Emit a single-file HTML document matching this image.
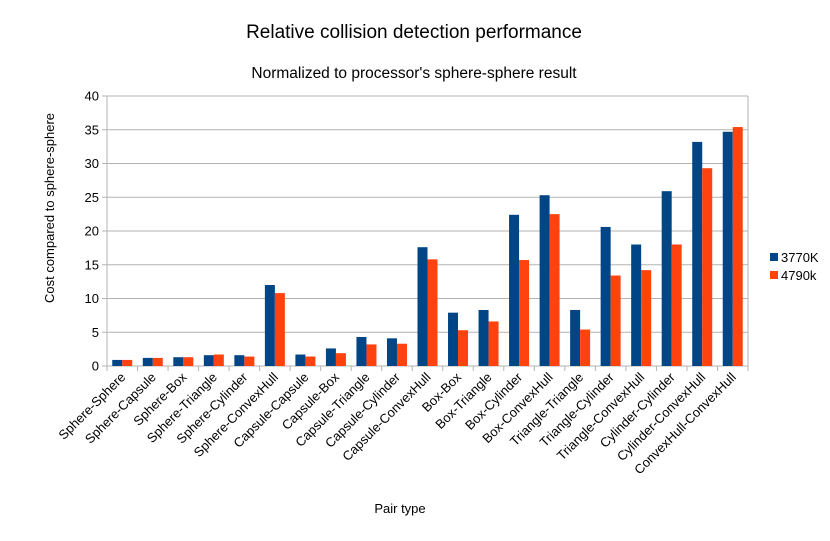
<!DOCTYPE html>
<html><head><meta charset="utf-8"><style>
body{margin:0;background:#fff;font-family:"Liberation Sans",sans-serif;}
</style></head><body>
<svg id="c" width="830" height="536" xmlns="http://www.w3.org/2000/svg" font-family="Liberation Sans, sans-serif">
<text x="414" y="38" text-anchor="middle" font-size="19" fill="#000">Relative collision detection performance</text>
<text x="414" y="78" text-anchor="middle" font-size="15.5" fill="#000">Normalized to processor's sphere-sphere result</text>
<text transform="translate(54,208) rotate(-90)" text-anchor="middle" font-size="13">Cost compared to sphere-sphere</text>
<text x="400" y="513" text-anchor="middle" font-size="13">Pair type</text>
<g id="grid"></g><g id="bars"></g><g id="axes"></g>
<rect x="770" y="253" width="8" height="8" fill="#004586"/>
<text x="781" y="262" font-size="13">3770K</text>
<rect x="770" y="271" width="8" height="8" fill="#ff420e"/>
<text x="781" y="280" font-size="13">4790k</text>
</svg>
<script>
const categories=["Sphere-Sphere","Sphere-Capsule","Sphere-Box","Sphere-Triangle","Sphere-Cylinder","Sphere-ConvexHull","Capsule-Capsule","Capsule-Box","Capsule-Triangle","Capsule-Cylinder","Capsule-ConvexHull","Box-Box","Box-Triangle","Box-Cylinder","Box-ConvexHull","Triangle-Triangle","Triangle-Cylinder","Triangle-ConvexHull","Cylinder-Cylinder","Cylinder-ConvexHull","ConvexHull-ConvexHull"];
const s3770=[0.9,1.2,1.3,1.6,1.6,12.0,1.7,2.6,4.3,4.1,17.6,7.9,8.3,22.4,25.3,8.3,20.6,18.0,25.9,33.2,34.7];
const s4790=[0.9,1.2,1.3,1.7,1.4,10.8,1.4,1.9,3.2,3.3,15.8,5.3,6.6,15.7,22.5,5.4,13.4,14.2,18.0,29.3,35.4];
const yTicks=[0,5,10,15,20,25,30,35,40];
const NS="http://www.w3.org/2000/svg";
const L=107,R=748,T=96,B=366,yMax=40;
const y=v=>B-(v/yMax)*(B-T);
const band=(R-L)/categories.length;
const x=i=>L+i*band;
function mk(tag,attrs,parent){const e=document.createElementNS(NS,tag);for(const k in attrs)e.setAttribute(k,attrs[k]);document.getElementById(parent).appendChild(e);return e;}
yTicks.forEach(t=>{
  const l=mk('line',{x1:L-5,x2:R,y1:y(t),y2:y(t),stroke:'#b3b3b3','stroke-width':1},'grid');
  
  
  const tx=mk('text',{x:L-8,y:y(t)+4.5,'text-anchor':'end','font-size':13},'axes');
  tx.textContent=t;
  
  
});
mk('line',{x1:L,x2:L,y1:T,y2:B,stroke:'#b3b3b3'},'axes');
mk('line',{x1:R,x2:R,y1:T,y2:B,stroke:'#b3b3b3'},'axes');
const bw=10;
categories.forEach((c,i)=>{
  const cx=x(i)+band/2;
  const b1=mk('rect',{x:cx-bw,y:y(s3770[i]),width:bw,height:B-y(s3770[i]),fill:'#004586'},'bars');
  
  
  const b2=mk('rect',{x:cx,y:y(s4790[i]),width:bw,height:B-y(s4790[i]),fill:'#ff420e'},'bars');
  
  
  const tk=mk('line',{x1:x(i),x2:x(i),y1:B,y2:B+5,stroke:'#b3b3b3'},'axes');
  
  
  const t=mk('text',{transform:`translate(${cx+4},${B+12}) rotate(-45)`,'text-anchor':'end','font-size':13},'axes');
  t.textContent=c;
  
  
});
mk('line',{x1:R,x2:R,y1:B,y2:B+5,stroke:'#b3b3b3'},'axes');
</script>
</body></html>
